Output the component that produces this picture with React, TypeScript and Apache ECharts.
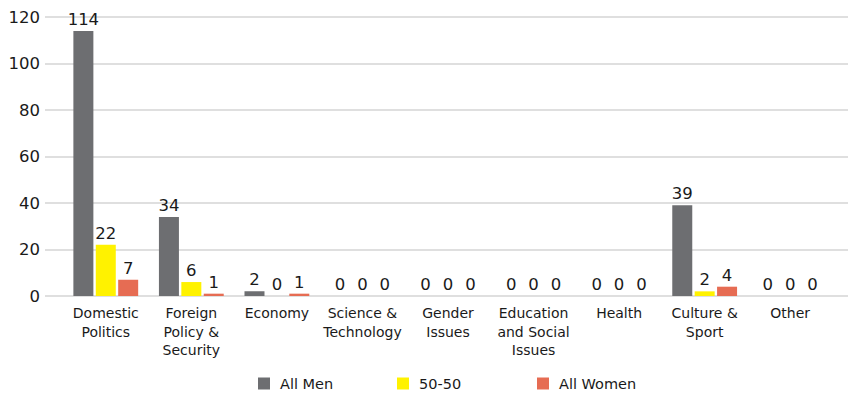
import React, { useEffect, useRef } from "react";
import * as echarts from "echarts";

const categories = [
  "Domestic\nPolitics",
  "Foreign\nPolicy &\nSecurity",
  "Economy",
  "Science &\nTechnology",
  "Gender\nIssues",
  "Education\nand Social\nIssues",
  "Health",
  "Culture &\nSport",
  "Other",
];
const allMen = [114, 34, 2, 0, 0, 0, 0, 39, 0];
const fiftyFifty = [22, 6, 0, 0, 0, 0, 0, 2, 0];
const allWomen = [7, 1, 1, 0, 0, 0, 0, 4, 0];
const seriesNames = ["All Men", "50-50", "All Women"];
const yTicks = { min: 0, max: 120, interval: 20 };

const FONT = "DejaVu Sans";
const TEXT = "#1a1a1a";

export default function App() {
  const ref = useRef<HTMLDivElement>(null);
  useEffect(() => {
    if (!ref.current) return;
    const chart = echarts.init(ref.current, undefined, { renderer: "svg" });
    const label = {
      show: true,
      position: "top" as const,
      distance: 3,
      fontFamily: FONT,
      fontSize: 16.5,
      color: TEXT,
    };
    const mk = (name: string, data: number[], color: string) => ({
      name,
      type: "bar",
      xAxisIndex: 1,
      yAxisIndex: 1,
      data,
      barWidth: 20,
      barGap: "12%",
      itemStyle: { color },
      label,
    });
    const legendLefts = [253, 392, 532];
    chart.setOption({
      animation: false,
      textStyle: { fontFamily: FONT },
      grid: [
        { left: 45, right: 0, top: 17, bottom: 97 },
        { left: 63, right: 15, top: 17, bottom: 97 },
      ],
      xAxis: [
        { gridIndex: 0, type: "value", min: 0, max: 1, show: false },
        {
          gridIndex: 1,
          type: "category",
          data: categories,
          axisLine: { show: false },
          axisTick: { show: false },
          axisLabel: {
            interval: 0,
            margin: 8,
            fontFamily: FONT,
            fontSize: 14,
            lineHeight: 18.5,
            color: TEXT,
          },
        },
      ],
      yAxis: [
        {
          gridIndex: 0,
          type: "value",
          min: yTicks.min,
          max: yTicks.max,
          interval: yTicks.interval,
          axisLine: { show: false },
          axisTick: { show: false },
          axisLabel: {
            margin: 5,
            fontFamily: FONT,
            fontSize: 16.5,
            color: TEXT,
          },
          splitLine: { lineStyle: { color: "#d4d4d4", width: 1.5 } },
        },
        {
          gridIndex: 1,
          type: "value",
          min: yTicks.min,
          max: yTicks.max,
          interval: yTicks.interval,
          show: false,
          splitLine: { show: false },
        },
      ],
      legend: seriesNames.map((n, i) => ({
        left: legendLefts[i],
        bottom: -3,
        itemWidth: 12,
        itemHeight: 12,
        icon: "rect",
        textStyle: { fontFamily: FONT, fontSize: 14.5, color: TEXT, padding: [0, 0, 0, 5] },
        data: [n],
      })),
      series: [
        mk(seriesNames[0], allMen, "#6d6e71"),
        mk(seriesNames[1], fiftyFifty, "#fff200"),
        mk(seriesNames[2], allWomen, "#e66c53"),
      ],
    });
    return () => chart.dispose();
  }, []);
  return <div ref={ref} style={{ width: 848, height: 393, position: "absolute", left: 0, top: 0 }} />;
}
